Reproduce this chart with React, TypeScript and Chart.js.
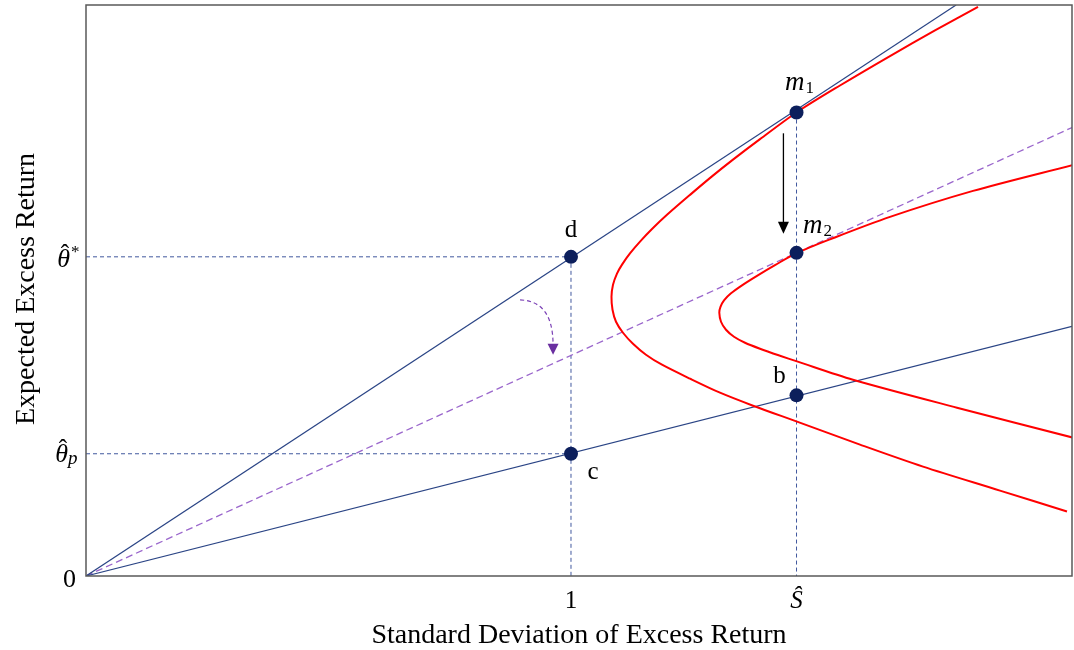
import React, { useEffect, useRef } from 'react';
import { Chart, registerables } from 'chart.js';

Chart.register(...registerables);

// ---- axis ranges and tick values ----
const X_MAX = 2.033;
const Y_MAX = 1.789;
const S_HAT = 1.465;
const THETA_STAR = 1.0;
const THETA_P = 0.383;

const xTickValues = [1, S_HAT];
const xTickLabels = ['1', 'Ŝ'];
const yTickValues = [0, THETA_P, THETA_STAR];
const yTickLabels = ['0', 'θ', 'θ'];
const yTickMarks = ['', 'p', '*'];

const xAxisTitle = 'Standard Deviation of Excess Return';
const yAxisTitle = 'Expected Excess Return';

// ---- straight lines from the origin ----
const upperLineX = [0, 1.794];
const upperLineY = [0, 1.789];
const lowerLineX = [0, 2.033];
const lowerLineY = [0, 0.782];
const purpleLineX = [0, 2.033];
const purpleLineY = [0, 1.405];

// ---- frontiers ----
const frontier1X = [1.8392, 1.7505, 1.6577, 1.5546, 1.4649, 1.3897, 1.334, 1.2907, 1.2454, 1.1979, 1.167, 1.1423, 1.1216, 1.1052, 1.0948, 1.0866, 1.0835, 1.0856, 1.0928, 1.1072, 1.1278, 1.1546, 1.1876, 1.2454, 1.3072, 1.3753, 1.466, 1.5959, 1.7258, 1.8845, 2.0227];
const frontier1Y = [1.7831, 1.7092, 1.6291, 1.5368, 1.4523, 1.3687, 1.3045, 1.252, 1.1941, 1.1315, 1.087, 1.0476, 1.0106, 0.9756, 0.9474, 0.9124, 0.8748, 0.8341, 0.7966, 0.7621, 0.7277, 0.6933, 0.662, 0.6182, 0.5743, 0.5336, 0.4836, 0.4116, 0.3427, 0.2676, 0.2019];
const frontier2X = [2.0351, 1.8289, 1.6577, 1.534, 1.4649, 1.4206, 1.3835, 1.3526, 1.3299, 1.3155, 1.3082, 1.3058, 1.3093, 1.3196, 1.3361, 1.3588, 1.3897, 1.4309, 1.466, 1.5814, 1.7959, 2.0351];
const frontier2Y = [1.288, 1.2066, 1.1252, 1.0548, 1.0116, 0.974, 0.9405, 0.9108, 0.8858, 0.8638, 0.8435, 0.8247, 0.7966, 0.7715, 0.7496, 0.7308, 0.7121, 0.6901, 0.6723, 0.615, 0.5274, 0.4335];

// ---- labelled points ----
const pointNames = ['d', 'c', 'm1', 'm2', 'b'];
const pointX = [1, 1, S_HAT, S_HAT, S_HAT];
const pointY = [THETA_STAR, THETA_P, 1.452, 1.0125, 0.566];

// ---- guide (dashed) segments ----
const guideThetaStarX = [0, 1];
const guideThetaStarY = [THETA_STAR, THETA_STAR];
const guideThetaPX = [0, 1];
const guideThetaPY = [THETA_P, THETA_P];
const guideOneX = [1, 1];
const guideOneY = [THETA_STAR, 0];
const guideSX = [S_HAT, S_HAT];
const guideSY = [1.452, 0];

// ---- arrows (data coords) ----
const blackArrowX = [1.438, 1.438];
const blackArrowY = [1.387, 1.072];
const curvedArrowX = [0.895, 0.963];
const curvedArrowY = [0.865, 0.693];

const SERIF = '"Liberation Serif", "DejaVu Serif", serif';
const NAVY = '#2a4485';
const DOT = '#0c1f5c';
const GUIDE = '#40589e';
const PURPLE = '#9a66cc';

const pts = (xs: number[], ys: number[]) => xs.map((x, i) => ({ x, y: ys[i] }));

const labelOffsets: Record<string, [number, number]> = {
  d: [0, -26],
  c: [22, 19],
  m1: [4, -30],
  m2: [22, -27],
  b: [-17, -19],
};

const annotationPlugin = {
  id: 'annotations',
  afterDatasetsDraw(chart: any) {
    const { ctx, chartArea, scales } = chart;
    const xs = scales.x;
    const ys = scales.y;
    ctx.save();
    // border box
    ctx.strokeStyle = '#595959';
    ctx.lineWidth = 1.5;
    ctx.strokeRect(chartArea.left, chartArea.top, chartArea.right - chartArea.left, chartArea.bottom - chartArea.top);

    // theta tick labels (hat + mark)
    ctx.fillStyle = '#000';
    ctx.textBaseline = 'alphabetic';
    for (let i = 1; i < yTickValues.length; i++) {
      const py = ys.getPixelForValue(yTickValues[i]);
      const isStar = yTickMarks[i] === '*';
      const right = chartArea.left - (isStar ? 16 : 18);
      const base = py + (isStar ? 10 : 8);
      ctx.font = `italic 26px ${SERIF}`;
      ctx.textAlign = 'right';
      ctx.fillText(yTickLabels[i], right, base);
      ctx.textAlign = 'center';
      ctx.font = `25px ${SERIF}`;
      ctx.fillText('ˆ', right - 5, base - 5);
      ctx.textAlign = 'left';
      if (isStar) {
        ctx.font = `17px ${SERIF}`;
        ctx.fillText('*', right + 1, base - 10);
      } else {
        ctx.font = `italic 19px ${SERIF}`;
        ctx.fillText('p', right + 0, base + 2);
      }
    }

    // point labels
    ctx.textBaseline = 'middle';
    pointNames.forEach((name, i) => {
      const px = xs.getPixelForValue(pointX[i]) + labelOffsets[name][0];
      const py = ys.getPixelForValue(pointY[i]) + labelOffsets[name][1];
      if (name.startsWith('m')) {
        ctx.font = `italic 27px ${SERIF}`;
        ctx.textAlign = 'right';
        ctx.fillText('m', px + 4, py);
        ctx.font = `17px ${SERIF}`;
        ctx.textAlign = 'left';
        ctx.fillText(name.slice(1), px + 5, py + 6);
      } else {
        ctx.font = `25px ${SERIF}`;
        ctx.textAlign = 'center';
        ctx.fillText(name, px, py);
      }
    });

    // black arrow m1 -> m2
    const ax = xs.getPixelForValue(blackArrowX[0]);
    const ay0 = ys.getPixelForValue(blackArrowY[0]);
    const ay1 = ys.getPixelForValue(blackArrowY[1]);
    ctx.strokeStyle = '#000';
    ctx.lineWidth = 1.3;
    ctx.beginPath();
    ctx.moveTo(ax, ay0);
    ctx.lineTo(ax, ay1 - 10);
    ctx.stroke();
    ctx.fillStyle = '#000';
    ctx.beginPath();
    ctx.moveTo(ax - 5.5, ay1 - 12);
    ctx.lineTo(ax + 5.5, ay1 - 12);
    ctx.lineTo(ax, ay1);
    ctx.closePath();
    ctx.fill();

    // purple curved rotation arrow
    const cx0 = xs.getPixelForValue(curvedArrowX[0]);
    const cy0 = ys.getPixelForValue(curvedArrowY[0]);
    const cxe = xs.getPixelForValue(curvedArrowX[1]);
    const cye = ys.getPixelForValue(curvedArrowY[1]);
    ctx.strokeStyle = '#7a3fb5';
    ctx.lineWidth = 1.2;
    ctx.setLineDash([4, 3]);
    ctx.beginPath();
    ctx.moveTo(cx0, cy0);
    ctx.quadraticCurveTo(cxe, cy0 + 1, cxe, cye - 10);
    ctx.stroke();
    ctx.setLineDash([]);
    ctx.fillStyle = '#6a2fa0';
    ctx.beginPath();
    ctx.moveTo(cxe - 5.5, cye - 11);
    ctx.lineTo(cxe + 5.5, cye - 11);
    ctx.lineTo(cxe, cye);
    ctx.closePath();
    ctx.fill();

    // y axis title
    ctx.save();
    ctx.translate(27, 425);
    ctx.rotate(-Math.PI / 2);
    ctx.font = `28px ${SERIF}`;
    ctx.fillStyle = '#000';
    ctx.textAlign = 'left';
    ctx.textBaseline = 'middle';
    ctx.fillText(yAxisTitle, 0, 0);
    ctx.restore();

    ctx.restore();
  },
};

export default function App() {
  const ref = useRef<HTMLCanvasElement | null>(null);

  useEffect(() => {
    if (!ref.current) return;
    const lineDs = (xs: number[], ys: number[], color: string, width: number, dash: number[] = []) => ({
      data: pts(xs, ys),
      showLine: true,
      borderColor: color,
      borderWidth: width,
      borderDash: dash,
      pointRadius: 0,
      fill: false,
      tension: 0,
    });
    const chart = new Chart(ref.current, {
      type: 'scatter',
      data: {
        datasets: [
          {
            data: pts(pointX, pointY),
            showLine: false,
            pointRadius: 7,
            pointHoverRadius: 7,
            backgroundColor: DOT,
            borderColor: DOT,
            borderWidth: 0,
          },
          { ...lineDs(frontier1X, frontier1Y, '#ff0000', 2), tension: 0.3 },
          { ...lineDs(frontier2X, frontier2Y, '#ff0000', 2), tension: 0.3 },
          lineDs(upperLineX, upperLineY, NAVY, 1.2),
          lineDs(lowerLineX, lowerLineY, NAVY, 1.2),
          lineDs(purpleLineX, purpleLineY, PURPLE, 1.3, [7, 4]),
          lineDs(guideThetaStarX, guideThetaStarY, GUIDE, 1, [4, 3]),
          lineDs(guideThetaPX, guideThetaPY, GUIDE, 1, [4, 3]),
          lineDs(guideOneX, guideOneY, GUIDE, 1, [4, 3]),
          lineDs(guideSX, guideSY, GUIDE, 1, [4, 3]),
        ] as any,
      },
      options: {
        responsive: false,
        animation: false,
        events: [],
        layout: { autoPadding: false, padding: { top: 5, right: 2, left: 0, bottom: 0 } },
        plugins: { legend: { display: false }, tooltip: { enabled: false } },
        scales: {
          x: {
            type: 'linear',
            min: 0,
            max: X_MAX,
            grid: { display: false, drawTicks: false },
            border: { display: false },
            afterBuildTicks: (s: any) => {
              s.ticks = xTickValues.map((v) => ({ value: v }));
            },
            afterFit: (s: any) => {
              s.height = 74;
              s.paddingLeft = 0;
              s.paddingRight = 0;
            },
            ticks: {
              autoSkip: false,
              maxRotation: 0,
              padding: 10,
              color: '#000',
              font: (c: any) => ({ family: SERIF, size: 25, style: c.index === 1 ? 'italic' : 'normal' }),
              callback: (_v: any, i: number) => xTickLabels[i],
            },
            title: {
              display: true,
              text: xAxisTitle,
              color: '#000',
              font: { family: SERIF, size: 28, lineHeight: 1 },
              padding: 0,
            },
          },
          y: {
            type: 'linear',
            min: 0,
            max: Y_MAX,
            grid: { display: false, drawTicks: false },
            border: { display: false },
            afterBuildTicks: (s: any) => {
              s.ticks = yTickValues.map((v) => ({ value: v }));
            },
            afterFit: (s: any) => {
              s.width = 86;
              s.paddingTop = 0;
              s.paddingBottom = 0;
            },
            ticks: {
              autoSkip: false,
              padding: 10,
              labelOffset: 4,
              color: '#000',
              font: { family: SERIF, size: 26 },
              callback: (_v: any, i: number) => (i === 0 ? yTickLabels[0] : ''),
            },
          },
        },
      } as any,
      plugins: [annotationPlugin],
    });
    return () => chart.destroy();
  }, []);

  return (
    <div style={{ position: 'fixed', left: 0, top: 0, width: 1074, height: 650, background: '#fff' }}>
      <canvas ref={ref} width={1074} height={650} style={{ display: 'block' }} />
    </div>
  );
}
